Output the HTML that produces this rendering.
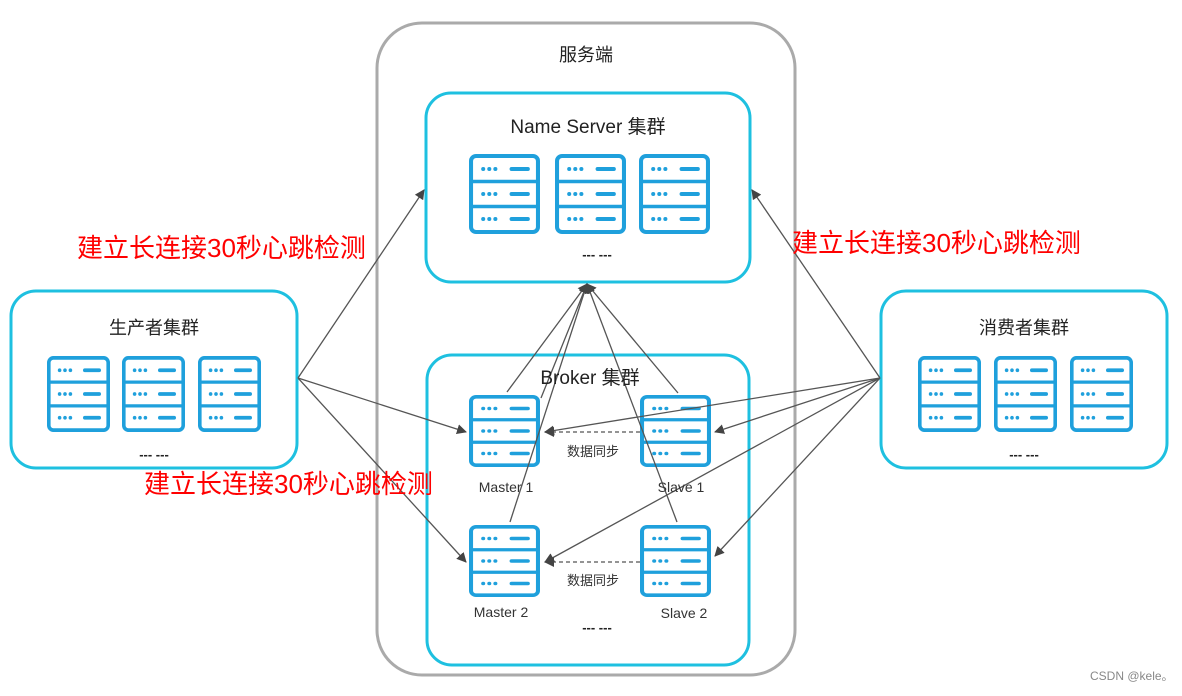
<!DOCTYPE html>
<html><head><meta charset="utf-8"><style>
body{margin:0;background:#fff;width:1182px;height:691px;overflow:hidden}
text{font-family:"Liberation Sans","Noto Sans CJK SC",sans-serif}
</style></head><body>
<svg width="1182" height="691" viewBox="0 0 1182 691" xmlns="http://www.w3.org/2000/svg">
<defs>
<symbol id="srv" viewBox="0 0 70 80" preserveAspectRatio="none">
<rect x="2" y="2" width="66" height="76" rx="5" fill="none" stroke="#1fa0dc" stroke-width="4"/>
<line x1="2" y1="27.5" x2="68" y2="27.5" stroke="#1fa0dc" stroke-width="3.5"/>
<line x1="2" y1="52.5" x2="68" y2="52.5" stroke="#1fa0dc" stroke-width="3.5"/>
<g fill="#1fa0dc">
<circle cx="14" cy="15" r="2"/><circle cx="20" cy="15" r="2"/><circle cx="26" cy="15" r="2"/><rect x="40" y="13" width="20" height="4" rx="2"/>
<circle cx="14" cy="40" r="2"/><circle cx="20" cy="40" r="2"/><circle cx="26" cy="40" r="2"/><rect x="40" y="38" width="20" height="4" rx="2"/>
<circle cx="14" cy="65" r="2"/><circle cx="20" cy="65" r="2"/><circle cx="26" cy="65" r="2"/><rect x="40" y="63" width="20" height="4" rx="2"/>
</g>
</symbol>
<marker id="ah" markerWidth="10" markerHeight="10" refX="9" refY="5" orient="auto" markerUnits="userSpaceOnUse"><path d="M0,0 L10,5 L0,10 z" fill="#444"/></marker>
</defs>
<rect x="377" y="23" width="418" height="652" rx="45" fill="none" stroke="#aaa" stroke-width="3"/>
<rect x="426" y="93" width="324" height="189" rx="25" fill="none" stroke="#1ec0e0" stroke-width="3"/>
<rect x="427" y="355" width="322" height="310" rx="25" fill="none" stroke="#1ec0e0" stroke-width="3"/>
<rect x="11" y="291" width="286" height="177" rx="25" fill="none" stroke="#1ec0e0" stroke-width="3"/>
<rect x="881" y="291" width="286" height="177" rx="25" fill="none" stroke="#1ec0e0" stroke-width="3"/>

<use href="#srv" x="469" y="154" width="71" height="80"/>
<use href="#srv" x="555" y="154" width="71" height="80"/>
<use href="#srv" x="639" y="154" width="71" height="80"/>
<use href="#srv" x="47" y="356" width="63" height="76"/>
<use href="#srv" x="122" y="356" width="63" height="76"/>
<use href="#srv" x="198" y="356" width="63" height="76"/>
<use href="#srv" x="918" y="356" width="63" height="76"/>
<use href="#srv" x="994" y="356" width="63" height="76"/>
<use href="#srv" x="1070" y="356" width="63" height="76"/>
<use href="#srv" x="469" y="395" width="71" height="72"/>
<use href="#srv" x="640" y="395" width="71" height="72"/>
<use href="#srv" x="469" y="525" width="71" height="72"/>
<use href="#srv" x="640" y="525" width="71" height="72"/>

<g stroke="#555" stroke-width="1.3" fill="none" marker-end="url(#ah)">
<line x1="298" y1="378" x2="424" y2="190"/>
<line x1="298" y1="378" x2="466" y2="432"/>
<line x1="298" y1="378" x2="466" y2="562"/>
<line x1="880" y1="378" x2="752" y2="190"/>
<line x1="880" y1="378" x2="545" y2="432"/>
<line x1="880" y1="378" x2="715" y2="432"/>
<line x1="880" y1="378" x2="545" y2="562"/>
<line x1="880" y1="378" x2="715" y2="556"/>
<line x1="507" y1="392" x2="587" y2="284"/>
<line x1="541" y1="398" x2="587" y2="284"/>
<line x1="678" y1="393" x2="587" y2="284"/>
<line x1="510" y1="522" x2="587" y2="284"/>
<line x1="677" y1="522" x2="587" y2="284"/>
<line x1="640" y1="432" x2="545" y2="432" stroke-dasharray="4,3"/>
<line x1="640" y1="562" x2="545" y2="562" stroke-dasharray="4,3"/>
</g>

<g fill="#222" text-anchor="middle">
<text x="586" y="61" font-size="18">服务端</text>
<text x="588" y="133" font-size="19">Name Server 集群</text>
<text x="590" y="384" font-size="19">Broker 集群</text>
<text x="154" y="334" font-size="18">生产者集群</text>
<text x="1024" y="334" font-size="18">消费者集群</text>
<text x="597" y="259" font-size="13" font-weight="bold">--- ---</text>
<text x="154" y="459" font-size="13" font-weight="bold">--- ---</text>
<text x="1024" y="459" font-size="13" font-weight="bold">--- ---</text>
<text x="597" y="632" font-size="13" font-weight="bold">--- ---</text>
<text x="506" y="492" font-size="14" fill="#333">Master 1</text>
<text x="681" y="492" font-size="14" fill="#333">Slave 1</text>
<text x="501" y="617" font-size="14" fill="#333">Master 2</text>
<text x="684" y="618" font-size="14" fill="#333">Slave 2</text>
<text x="593" y="456" font-size="13" fill="#333">数据同步</text>
<text x="593" y="585" font-size="13" fill="#333">数据同步</text>
</g>
<g fill="#f00" font-size="26">
<text x="77" y="257">建立长连接30秒心跳检测</text>
<text x="792" y="252">建立长连接30秒心跳检测</text>
<text x="144" y="493">建立长连接30秒心跳检测</text>
</g>
<text x="1090" y="680" font-size="12" fill="#888">CSDN @kele。</text>
</svg>
</body></html>
